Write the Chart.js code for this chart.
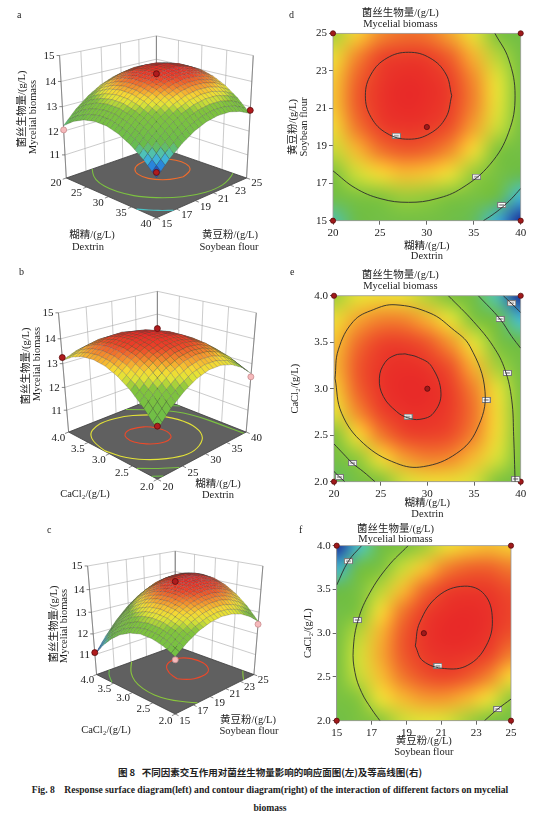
<!DOCTYPE html>
<html lang="zh">
<head>
<meta charset="utf-8">
<title>Fig. 8 response surface and contour diagrams</title>
<script src="https://cdn.jsdelivr.net/npm/chart.js@4.4.1/dist/chart.umd.min.js"></script>
<style>
  html, body { margin: 0; padding: 0; background: #fff; }
  body { position: relative; width: 560px; height: 821px; overflow: hidden;
         font-family: 'Liberation Serif', 'Noto Sans CJK SC', serif; color: #222; }
  canvas { position: absolute; }
  .tag { position: absolute; font-size: 10px; line-height: 10px; }
  .cap { position: absolute; left: 0; width: 540px; text-align: center; font-weight: bold;
         white-space: nowrap; font-size: 9.6px; line-height: 14px; }
</style>
</head>
<body>
<canvas id="a" width="280" height="255" style="left:0;top:0"></canvas>
<canvas id="b" width="280" height="255" style="left:0;top:255px"></canvas>
<canvas id="c" width="280" height="255" style="left:0;top:510px"></canvas>
<canvas id="d" width="280" height="262" style="left:280px;top:0"></canvas>
<canvas id="e" width="280" height="262" style="left:280px;top:262px"></canvas>
<canvas id="f" width="280" height="245" style="left:280px;top:520px"></canvas>

<div class="tag" style="left:17px;top:10px">a</div>
<div class="tag" style="left:19px;top:267px">b</div>
<div class="tag" style="left:47px;top:525px">c</div>
<div class="tag" style="left:289px;top:10px">d</div>
<div class="tag" style="left:290px;top:267px">e</div>
<div class="tag" style="left:299px;top:525px">f</div>

<div class="cap" style="top:765px;font-family:'Noto Sans CJK SC',sans-serif;font-size:9.5px">图 8&nbsp;&nbsp; 不同因素交互作用对菌丝生物量影响的响应面图(左)及等高线图(右)</div>
<div class="cap" style="top:783px">Fig. 8&nbsp;&nbsp;&nbsp; Response surface diagram(left) and contour diagram(right) of the interaction of different factors on mycelial</div>
<div class="cap" style="top:801px">biomass</div>

<script>
// levels of the three factors used for the surfaces
const dextrin = [20, 22.5, 25, 27.5, 30, 32.5, 35, 37.5, 40];
const soybean = [15, 16.25, 17.5, 18.75, 20, 21.25, 22.5, 23.75, 25];
const cacl2 = [2.0, 2.25, 2.5, 2.75, 3.0, 3.25, 3.5, 3.75, 4.0];

const dextrinTicks = [20, 25, 30, 35, 40];
const soybeanTicks = [15, 17, 19, 21, 23, 25];
const cacl2Ticks = [2.0, 2.5, 3.0, 3.5, 4.0];
const biomassTicks = [11, 12, 13, 14, 15];
const biomassRange = [10, 15];

// mycelial biomass (g/L), rows = soybean flour, columns = dextrin
const biomassSoyDex = [
  [12.22, 12.55, 12.76, 12.85, 12.83, 12.68, 12.42, 12.04, 11.55],
  [12.75, 13.07, 13.28, 13.37, 13.35, 13.20, 12.94, 12.57, 12.07],
  [13.16, 13.49, 13.70, 13.79, 13.76, 13.62, 13.36, 12.98, 12.48],
  [13.47, 13.80, 14.01, 14.10, 14.07, 13.93, 13.67, 13.29, 12.79],
  [13.67, 14.00, 14.21, 14.30, 14.27, 14.13, 13.87, 13.49, 12.99],
  [13.76, 14.09, 14.30, 14.39, 14.36, 14.22, 13.96, 13.58, 13.08],
  [13.75, 14.07, 14.28, 14.37, 14.35, 14.20, 13.94, 13.57, 13.07],
  [13.62, 13.95, 14.16, 14.25, 14.23, 14.08, 13.82, 13.44, 12.95],
  [13.39, 13.72, 13.93, 14.02, 14.00, 13.85, 13.59, 13.21, 12.72]
];
// rows = CaCl2, columns = dextrin
const biomassCaDex = [
  [11.97, 12.55, 12.98, 13.28, 13.43, 13.43, 13.29, 13.01, 12.59],
  [12.55, 13.09, 13.48, 13.73, 13.84, 13.80, 13.62, 13.29, 12.82],
  [13.01, 13.51, 13.86, 14.06, 14.12, 14.04, 13.82, 13.45, 12.93],
  [13.35, 13.80, 14.10, 14.27, 14.28, 14.16, 13.89, 13.48, 12.92],
  [13.56, 13.96, 14.23, 14.34, 14.32, 14.15, 13.83, 13.38, 12.78],
  [13.64, 14.00, 14.22, 14.29, 14.22, 14.01, 13.65, 13.15, 12.51],
  [13.60, 13.91, 14.09, 14.12, 14.00, 13.75, 13.35, 12.80, 12.11],
  [13.43, 13.70, 13.83, 13.82, 13.66, 13.36, 12.91, 12.33, 11.59],
  [13.13, 13.36, 13.45, 13.39, 13.19, 12.84, 12.36, 11.72, 10.95]
];
// rows = CaCl2, columns = soybean flour
const biomassCaSoy = [
  [12.42, 12.82, 13.12, 13.30, 13.38, 13.34, 13.20, 12.94, 12.58],
  [12.67, 13.11, 13.45, 13.67, 13.78, 13.79, 13.68, 13.46, 13.14],
  [12.80, 13.28, 13.65, 13.91, 14.06, 14.11, 14.04, 13.86, 13.57],
  [12.81, 13.32, 13.73, 14.03, 14.22, 14.30, 14.27, 14.13, 13.88],
  [12.69, 13.25, 13.69, 14.03, 14.26, 14.38, 14.38, 14.28, 14.07],
  [12.45, 13.05, 13.53, 13.91, 14.17, 14.33, 14.37, 14.31, 14.14],
  [12.09, 12.72, 13.25, 13.66, 13.96, 14.16, 14.24, 14.22, 14.08],
  [11.61, 12.28, 12.84, 13.29, 13.63, 13.87, 13.99, 14.00, 13.90],
  [11.00, 11.71, 12.31, 12.80, 13.18, 13.45, 13.61, 13.66, 13.60]
];

// contour lines (dextrin, soybean flour)
const dLevels = [14.2, 13.2, 12.2];
const dInner = [[32.65,21.67],[32.03,22.83],[30.35,23.68],[28.05,23.99],[25.75,23.68],[24.07,22.83],[23.45,21.67],
                [24.07,20.51],[25.75,19.66],[28.05,19.35],[30.35,19.66],[32.03,20.51],[32.65,21.67]];
const dOuter = [[37.25,25],[38.72,23.62],[39.4,21.67],[38.72,19.72],[36.74,18.01],[33.73,16.74],[30.99,16.17],
                [28.05,15.98],[25.11,16.17],[22.38,16.74],[20,17.66]];
const dCorner = [[36.03,15],[36.95,15.3],[38.02,15.71],[39.01,16.17],[40,16.72]];
const dLabels = [[26.74,19.54],[35.3,17.35],[37.98,15.84]];
const dDesign = [[20,15],[20,25],[40,15],[40,25],[30,20]];

// panel e (dextrin, CaCl2)
const eLevels = [14.25, 13.5, 12.9, 12.3, 11.7, 12.9, 12.3];
const eInner = [[27.61,3.375],[29.04,3.336],[30.46,3.239],[31.46,2.952],[30.64,2.736],[29.21,2.671],[27.86,2.689],
                [26.71,2.754],[25.29,2.916],[24.86,3.113],[25.46,3.282],[26.54,3.361],[27.61,3.375]];
const eOuter = [[20.11,3.113],[20.46,3.418],[22.07,3.724],[24.21,3.85],[26.54,3.903],[30.29,3.813],[32.61,3.65],
                [34.57,3.454],[36.18,2.969],[35.29,2.557],[33.14,2.305],[29.57,2.162],[26.71,2.197],[23.14,2.413],
                [20.82,2.736],[20.11,3.113]];
const eRight1 = [[32.25,4.0],[34.93,3.724],[37.07,3.454],[38.32,3.203],[39.04,2.88],[39.25,2.485],[39.4,2.0]];
const eRight2 = [[35.46,4.0],[37.79,3.749],[39.04,3.562],[40,3.436]];
const eRight3 = [[38.14,4.0],[39.04,3.914],[40,3.82]];
const eLeft1 = [[20,2.406],[21.0,2.30],[22.0,2.197],[23.14,2.108],[24.39,2.0]];
const eLeft2 = [[20,2.11],[20.57,2.054],[21.15,2.0]];
const eLabels = [[27.93,2.70],[36.29,2.88],[38.57,3.17],[37.79,3.75],[39.04,3.92],[39.46,2.03],[22.0,2.2],[20.57,2.05]];
const eDesign = [[20,2],[20,4],[40,2],[40,4],[30,3]];

// panel f (soybean flour, CaCl2)
const fLevels = [14.3, 13.25, 12.2, 13.25];
const fInner = [[19.51,2.854],[19.95,2.683],[21.19,2.596],[22.52,2.634],[23.57,2.854],[23.93,3.158],[23.48,3.442],
                [22.33,3.537],[20.81,3.423],[19.76,3.120],[19.51,2.854]];
const fOuter = [[19.10,4.0],[17.95,3.765],[16.90,3.461],[16.24,3.158],[15.95,2.816],[16.05,2.550],[16.43,2.323],
                [17.0,2.133],[17.48,2.0]];
const fCornerTL = [[15,3.55],[15.67,3.822],[16.43,4.0]];
const fCornerBR = [[23.48,2.0],[24.24,2.133],[25,2.247]];
const fLabels = [[20.81,2.626],[16.18,3.15],[15.67,3.822],[24.24,2.133]];
const fDesign = [[15,2],[15,4],[25,2],[25,4],[20,3]];

// design points shown on the surfaces (column factor, row factor, biomass)
const aDesign = [[20,15,12.05],[40,15,11.75],[40,25,12.85],[30,20,14.3]];
const bDesign = [[20,4.0,13.25],[40,2.0,12.45],[20,2.0,12.1],[30,3.0,14.4]];
const cDesign = [[15,4.0,11.1],[25,2.0,12.45],[15,2.0,12.3],[20,3.0,14.35]];

const FONT = "'Liberation Serif', 'Noto Sans CJK SC', serif";
Chart.defaults.font.family = FONT;
Chart.defaults.color = '#222';

const TITLE = ['菌丝生物量/(g/L)', 'Mycelial biomass'];

// blue - cyan - green - yellow - red colour ramp
const RAMP = [
  [0.00, 25, 40, 150], [0.10, 35, 120, 220], [0.20, 70, 195, 215], [0.32, 105, 188, 75],
  [0.62, 130, 196, 60], [0.70, 225, 228, 55], [0.76, 246, 215, 52], [0.84, 243, 140, 45],
  [0.92, 236, 70, 42], [1.00, 232, 42, 40]
];
function ramp(t) {
  t = Math.max(0, Math.min(1, t));
  for (let k = 1; k < RAMP.length; k++) {
    if (t <= RAMP[k][0]) {
      const a = RAMP[k - 1], b = RAMP[k], f = (t - a[0]) / (b[0] - a[0]);
      return [1, 2, 3].map(m => Math.round(a[m] + (b[m] - a[m]) * f));
    }
  }
  return RAMP[RAMP.length - 1].slice(1);
}
const rampCss = t => { const c = ramp(t); return `rgb(${c[0]},${c[1]},${c[2]})`; };

// small white boxes that mark the contour labels
const labelImg = (() => {
  const c = document.createElement('canvas');
  c.width = 9; c.height = 6;
  const g = c.getContext('2d');
  g.fillStyle = '#fff'; g.fillRect(0, 0, 9, 6);
  g.strokeStyle = '#7a7a7a'; g.lineWidth = 1; g.strokeRect(0.5, 0.5, 8, 5);
  g.fillStyle = '#aaa'; g.fillRect(2, 2, 5, 2);
  return c;
})();

function contourChart(id, o) {
  const all = o.grid.flat();
  const lo = Math.min(...all), hi = Math.max(...all);

  const heat = {
    id: 'heat',
    beforeDatasetsDraw(chart) {
      const {ctx, chartArea: a, scales: {x, y}} = chart;
      const ny = o.grid.length, nx = o.grid[0].length;
      const off = document.createElement('canvas');
      off.width = nx; off.height = ny;
      const octx = off.getContext('2d');
      const img = octx.createImageData(nx, ny);
      for (let j = 0; j < ny; j++) {
        for (let i = 0; i < nx; i++) {
          const c = ramp((o.grid[j][i] - lo) / (hi - lo));
          const k = ((ny - 1 - j) * nx + i) * 4;
          img.data[k] = c[0]; img.data[k + 1] = c[1]; img.data[k + 2] = c[2]; img.data[k + 3] = 255;
        }
      }
      octx.putImageData(img, 0, 0);
      const dx = (o.cols[nx - 1] - o.cols[0]) / (nx - 1);
      const dy = (o.rows[ny - 1] - o.rows[0]) / (ny - 1);
      const x0 = x.getPixelForValue(o.cols[0] - dx / 2), x1 = x.getPixelForValue(o.cols[nx - 1] + dx / 2);
      const y0 = y.getPixelForValue(o.rows[ny - 1] + dy / 2), y1 = y.getPixelForValue(o.rows[0] - dy / 2);
      ctx.save();
      ctx.beginPath(); ctx.rect(a.left, a.top, a.width, a.height); ctx.clip();
      ctx.imageSmoothingEnabled = true;
      ctx.imageSmoothingQuality = 'high';
      ctx.drawImage(off, x0, y0, x1 - x0, y1 - y0);
      ctx.restore();
      ctx.save();
      ctx.strokeStyle = '#9a9a9a'; ctx.lineWidth = 0.8;
      ctx.strokeRect(a.left, a.top, a.width, a.height);
      ctx.restore();
    }
  };

  const datasets = o.lines.map(l => ({
    data: l.map(p => ({x: p[0], y: p[1]})),
    showLine: true, borderColor: '#2c2c2c', borderWidth: 0.9, pointRadius: 0, tension: 0.4
  }));
  datasets.push({data: o.labels.map(p => ({x: p[0], y: p[1]})), pointStyle: labelImg, pointRadius: 5});
  datasets.push({data: o.design.map(p => ({x: p[0], y: p[1]})), pointRadius: 2.6,
                 backgroundColor: '#a0191b', borderColor: '#5b0b0b', borderWidth: 0.8, clip: false});

  const axis = (ticks, fmt) => ({
    type: 'linear', min: ticks[0], max: ticks[ticks.length - 1],
    afterBuildTicks: s => { s.ticks = ticks.map(v => ({value: v})); },
    ticks: {font: {size: 11}, color: '#222', padding: 2, callback: fmt},
    grid: {drawOnChartArea: false, tickLength: 4, color: '#666'},
    border: {color: '#9a9a9a'}
  });
  const xs = axis(o.xTicks, o.xFmt), ys = axis(o.yTicks, o.yFmt);
  xs.afterFit = s => { s.height = o.xH; };
  ys.afterFit = s => { s.width = o.yW; };
  xs.title = {display: true, text: o.xTitle, color: '#222', font: {size: 10.5, lineHeight: o.xLH},
              padding: {top: 0, bottom: o.xPB}};
  ys.title = {display: true, text: o.yTitle, color: '#222', font: {size: 10.5, lineHeight: o.yLH},
              padding: {top: o.yPT, bottom: 0}};

  new Chart(document.getElementById(id), {
    type: 'scatter',
    data: {datasets},
    options: {
      responsive: false, animation: false, events: [],
      layout: {padding: {left: 0, right: o.padRight, top: 0, bottom: 0}},
      plugins: {
        legend: {display: false}, tooltip: {enabled: false},
        title: {display: true, text: TITLE, color: '#222',
                font: {size: 10.5, weight: 'normal', lineHeight: o.tLH}, padding: o.tPad}
      },
      scales: {x: xs, y: ys}
    },
    plugins: [heat]
  });
}

// simple perspective view of the response surface box
function project(v, X, Y, z) {
  const phi = 45 * Math.PI / 180, el = v.el * Math.PI / 180;
  const Zw = (z - biomassRange[0]) / (biomassRange[1] - biomassRange[0]) * v.H;
  const xr = X * Math.cos(phi) + Y * Math.sin(phi);
  const yr = -X * Math.sin(phi) + Y * Math.cos(phi);
  const up = Zw * Math.cos(el) + yr * Math.sin(el);
  const w = yr * Math.cos(el) - Zw * Math.sin(el);
  const k = v.D / (v.D + w);
  return [v.cx + v.s * xr * k, v.cy - v.s * up * k, w];
}

function smoothPath(ctx, p) {
  ctx.beginPath();
  ctx.moveTo(p[0][0], p[0][1]);
  for (let i = 1; i < p.length - 1; i++) {
    ctx.quadraticCurveTo(p[i][0], p[i][1], (p[i][0] + p[i + 1][0]) / 2, (p[i][1] + p[i + 1][1]) / 2);
  }
  ctx.lineTo(p[p.length - 1][0], p[p.length - 1][1]);
}

function surfaceChart(id, o) {
  const cv = document.getElementById(id);
  const W = cv.width, H = cv.height;
  const g = o.grid, ny = g.length, nx = g[0].length;
  const all = g.flat();
  const lo = Math.min(...all), hi = Math.max(...all);
  const z0 = biomassRange[0], z1 = biomassRange[1];

  const surface = {
    id: 'surface3d',
    beforeDatasetsDraw(chart) {
      const {ctx, scales: {x, y}} = chart;
      const pt = (X, Y, z) => {
        const r = project(o.view, X, Y, z);
        return [x.getPixelForValue(r[0]), y.getPixelForValue(r[1]), r[2]];
      };
      const line = (p, q) => { ctx.beginPath(); ctx.moveTo(p[0], p[1]); ctx.lineTo(q[0], q[1]); ctx.stroke(); };
      ctx.save();

      // back walls
      ctx.strokeStyle = '#a8a8a8'; ctx.lineWidth = 0.6;
      o.rightTicks.forEach(t => line(pt(-1, t[0], z0), pt(-1, t[0], z1)));
      o.leftTicks.forEach(t => line(pt(t[0], 1, z0), pt(t[0], 1, z1)));
      biomassTicks.forEach(z => { line(pt(-1, -1, z), pt(-1, 1, z)); line(pt(-1, 1, z), pt(1, 1, z)); });
      ctx.strokeStyle = '#777'; ctx.lineWidth = 0.8;
      line(pt(-1, -1, z0), pt(-1, -1, z1));
      line(pt(-1, 1, z0), pt(-1, 1, z1));
      line(pt(1, 1, z0), pt(1, 1, z1));

      // floor with projected contours
      const fl = [pt(-1, -1, z0), pt(1, -1, z0), pt(1, 1, z0), pt(-1, 1, z0)];
      ctx.beginPath();
      fl.forEach((p, i) => i ? ctx.lineTo(p[0], p[1]) : ctx.moveTo(p[0], p[1]));
      ctx.closePath();
      ctx.fillStyle = '#606060'; ctx.fill();
      ctx.strokeStyle = '#3c3c3c'; ctx.lineWidth = 0.8; ctx.stroke();
      o.contours.forEach((c, k) => {
        const pts = c.map(p => { const q = o.place(p[0], p[1]); return pt(q[0], q[1], z0); });
        ctx.strokeStyle = rampCss((o.levels[k] - lo) / (hi - lo) * 0.94);
        ctx.lineWidth = 1.1;
        smoothPath(ctx, pts);
        ctx.stroke();
      });

      // surface mesh, painted back to front
      const N = 3;
      const val = (fi, fj) => {
        const i = Math.min(Math.floor(fi), nx - 2), j = Math.min(Math.floor(fj), ny - 2);
        const a = fi - i, b = fj - j;
        return (1 - a) * (1 - b) * g[j][i] + a * (1 - b) * g[j][i + 1] + (1 - a) * b * g[j + 1][i] + a * b * g[j + 1][i + 1];
      };
      const node = (fi, fj) => {
        const cVal = o.cols[0] + (o.cols[nx - 1] - o.cols[0]) * fi / (nx - 1);
        const rVal = o.rows[0] + (o.rows[ny - 1] - o.rows[0]) * fj / (ny - 1);
        const q = o.place(cVal, rVal);
        const z = val(fi, fj);
        return {p: pt(q[0], q[1], z), z};
      };
      const quads = [];
      for (let j = 0; j < (ny - 1) * N; j++) {
        for (let i = 0; i < (nx - 1) * N; i++) {
          const c = [node(i / N, j / N), node((i + 1) / N, j / N), node((i + 1) / N, (j + 1) / N), node(i / N, (j + 1) / N)];
          quads.push({c, w: c.reduce((s, n) => s + n.p[2], 0) / 4, z: c.reduce((s, n) => s + n.z, 0) / 4});
        }
      }
      quads.sort((a, b) => b.w - a.w);
      ctx.lineWidth = 0.45;
      ctx.strokeStyle = 'rgba(55,55,55,0.45)';
      quads.forEach(q => {
        ctx.beginPath();
        q.c.forEach((n, k) => k ? ctx.lineTo(n.p[0], n.p[1]) : ctx.moveTo(n.p[0], n.p[1]));
        ctx.closePath();
        ctx.fillStyle = rampCss((q.z - lo) / (hi - lo));
        ctx.fill();
        ctx.stroke();
      });

      // axis ticks and labels
      ctx.fillStyle = '#222';
      ctx.strokeStyle = '#555'; ctx.lineWidth = 0.7;
      ctx.font = '11px ' + FONT;
      ctx.textAlign = 'right'; ctx.textBaseline = 'middle';
      biomassTicks.forEach(z => {
        const p = pt(-1, -1, z);
        line([p[0] - 3, p[1]], p);
        ctx.fillText(String(z), p[0] - 5, p[1] + 0.5);
      });
      ctx.textAlign = 'center';
      o.leftTicks.forEach(t => {
        line(pt(t[0], -1, z0), pt(t[0], -1.07, z0));
        const p = pt(t[0], -1.2, z0);
        ctx.fillText(t[1], p[0], p[1] + 2);
      });
      o.rightTicks.forEach(t => {
        line(pt(1, t[0], z0), pt(1.07, t[0], z0));
        const p = pt(1.2, t[0], z0);
        ctx.fillText(t[1], p[0], p[1] + 2);
      });

      ctx.font = '10.5px ' + FONT;
      o.titles.forEach(t => ctx.fillText(t[0], t[1], t[2]));
      o.zTitles.forEach(t => {
        ctx.save();
        ctx.translate(t[1], t[2]);
        ctx.rotate(-Math.PI / 2);
        ctx.fillText(t[0], 0, 0);
        ctx.restore();
      });
      ctx.restore();
    }
  };

  const surfaceAt = (c, r) => g[o.rows.indexOf(r)][o.cols.indexOf(c)];
  const pts = o.design.map(d => {
    const q = o.place(d[0], d[1]);
    const r = project(o.view, q[0], q[1], d[2]);
    return {x: r[0], y: r[1]};
  });
  const above = o.design.map(d => d[2] >= surfaceAt(d[0], d[1]));

  new Chart(cv, {
    type: 'scatter',
    data: {datasets: [{
      data: pts, pointRadius: 3, borderWidth: 0.8, clip: false,
      backgroundColor: above.map(u => u ? '#b01b1d' : '#f6b9bb'),
      borderColor: above.map(u => u ? '#5c0b0b' : '#c98d8f')
    }]},
    options: {
      responsive: false, animation: false, events: [],
      layout: {padding: 0},
      plugins: {legend: {display: false}, tooltip: {enabled: false}},
      scales: {
        x: {type: 'linear', display: false, min: 0, max: W},
        y: {type: 'linear', display: false, min: 0, max: H, reverse: true}
      }
    },
    plugins: [surface]
  });
}

const fmt1 = v => Number(v).toFixed(1);
const fmt0 = v => String(v);

// ---- left column: response surfaces ----
surfaceChart('a', {
  grid: biomassSoyDex, cols: dextrin, rows: soybean,
  place: (dex, soy) => [(dex - 30) / 10, (soy - 20) / 5],
  leftTicks: dextrinTicks.map(v => [(v - 30) / 10, String(v)]),
  rightTicks: soybeanTicks.map(v => [(v - 20) / 5, String(v)]),
  contours: [dInner, dOuter, dCorner], levels: dLevels,
  design: aDesign,
  view: {cx: 157, cy: 180, s: 66, el: 23, D: 11, H: 1.95},
  titles: [['糊精/(g/L)', 92, 235], ['Dextrin', 88, 247], ['黄豆粉/(g/L)', 230, 235], ['Soybean flour', 229, 247]],
  zTitles: [[TITLE[0], 22, 109], [TITLE[1], 33, 117]]
});

surfaceChart('b', {
  grid: biomassCaDex, cols: dextrin, rows: cacl2,
  place: (dex, ca) => [3 - ca, (dex - 30) / 10],
  leftTicks: cacl2Ticks.map(v => [3 - v, v.toFixed(1)]),
  rightTicks: dextrinTicks.map(v => [(v - 30) / 10, String(v)]),
  contours: [eInner, eOuter, eRight1, eRight2, eRight3, eLeft1, eLeft2], levels: eLevels,
  design: bDesign,
  view: {cx: 158, cy: 179, s: 65, el: 27, D: 8.5, H: 1.92},
  titles: [['CaCl₂/(g/L)', 85, 239], ['糊精/(g/L)', 218, 229], ['Dextrin', 218, 240]],
  zTitles: [[TITLE[0], 26, 111], [TITLE[1], 37, 109]]
});

surfaceChart('c', {
  grid: biomassCaSoy, cols: soybean, rows: cacl2,
  place: (soy, ca) => [3 - ca, (soy - 20) / 5],
  leftTicks: cacl2Ticks.map(v => [3 - v, v.toFixed(1)]),
  rightTicks: soybeanTicks.map(v => [(v - 20) / 5, String(v)]),
  contours: [fInner, fOuter, fCornerTL, fCornerBR], levels: fLevels,
  design: cDesign,
  view: {cx: 176.5, cy: 166, s: 57.6, el: 25, D: 8, H: 1.94},
  titles: [['CaCl₂/(g/L)', 106, 220], ['黄豆粉/(g/L)', 248, 210], ['Soybean flour', 249, 221]],
  zTitles: [[TITLE[0], 54, 114], [TITLE[1], 64, 116]]
});

// ---- right column: contour diagrams ----
contourChart('d', {
  grid: biomassSoyDex, cols: dextrin, rows: soybean,
  lines: [dInner, dOuter, dCorner], labels: dLabels, design: dDesign,
  xTicks: dextrinTicks, yTicks: soybeanTicks, xFmt: fmt0, yFmt: fmt0,
  xTitle: ['糊精/(g/L)', 'Dextrin'], yTitle: ['黄豆粉/(g/L)', 'Soybean flour'],
  xH: 41.3, yW: 53, padRight: 39.3,
  tLH: 1.05, tPad: {top: 8, bottom: 3.3},
  xLH: 0.95, xPB: 0.3, yLH: 1.02, yPT: 8
});

contourChart('e', {
  grid: biomassCaDex, cols: dextrin, rows: cacl2,
  lines: [eInner, eOuter, eRight1, eRight2, eRight3, eLeft1, eLeft2], labels: eLabels, design: eDesign,
  xTicks: dextrinTicks, yTicks: cacl2Ticks, xFmt: fmt0, yFmt: fmt1,
  xTitle: ['糊精/(g/L)', 'Dextrin'], yTitle: 'CaCl₂/(g/L)',
  xH: 42.3, yW: 54, padRight: 39.3,
  tLH: 1.05, tPad: {top: 8, bottom: 3.7},
  xLH: 1.05, xPB: 4.2, yLH: 1.05, yPT: 9.5
});

contourChart('f', {
  grid: biomassCaSoy, cols: soybean, rows: cacl2,
  lines: [fInner, fOuter, fCornerTL, fCornerBR], labels: fLabels, design: fDesign,
  xTicks: soybeanTicks, yTicks: cacl2Ticks, xFmt: fmt0, yFmt: fmt1,
  xTitle: ['黄豆粉/(g/L)', 'Soybean flour'], yTitle: 'CaCl₂/(g/L)',
  xH: 44.3, yW: 56.7, padRight: 49,
  tLH: 0.95, tPad: {top: 4.3, bottom: 1.4},
  xLH: 1.05, xPB: 6.8, yLH: 1.05, yPT: 22.5
});
</script>
</body>
</html>
